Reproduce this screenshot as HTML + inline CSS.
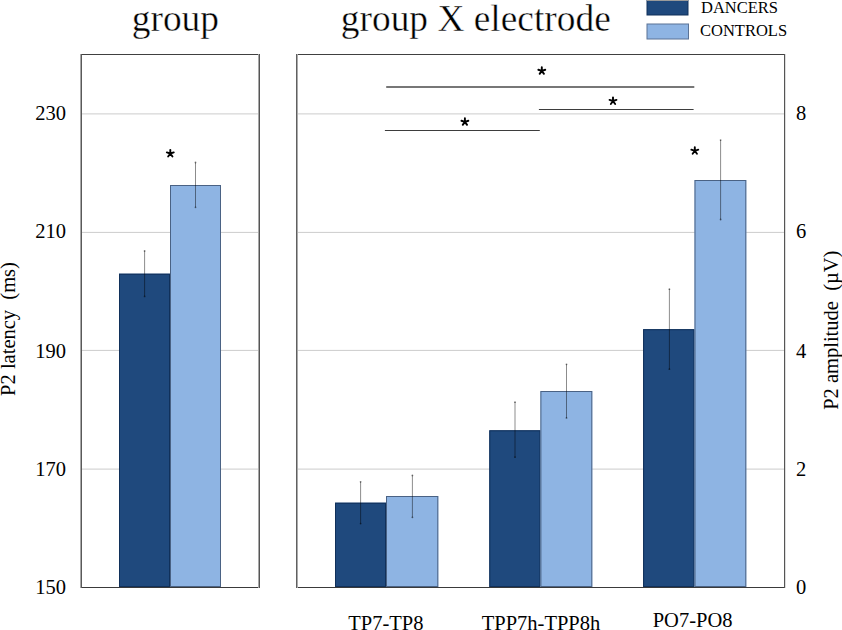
<!DOCTYPE html>
<html>
<head>
<meta charset="utf-8">
<style>
html,body{margin:0;padding:0;background:#fff;}
body{width:842px;height:630px;overflow:hidden;position:relative;}
svg{position:absolute;left:0;top:0;display:block;}
.t{font-family:"Liberation Serif",serif;fill:#000;}
</style>
</head>
<body>
<svg width="842" height="630" viewBox="0 0 842 630">
<text class="t" x="175.4" y="30.5" font-size="37.4" text-anchor="middle" stroke="#fff" stroke-width="0.4">group</text>
<text class="t" x="475.8" y="30.5" font-size="37.4" text-anchor="middle" stroke="#fff" stroke-width="0.4">group X electrode</text>
<rect x="647" y="-1" width="41" height="16" fill="#1F497D" stroke="#10305A" stroke-width="1"/>
<rect x="647" y="0" width="41" height="1" fill="#9a9a9a"/>
<rect x="647" y="24" width="41.5" height="15" fill="#8EB4E3" stroke="#5B7396" stroke-width="1"/>
<text class="t" x="701" y="13.1" font-size="16.5">DANCERS</text>
<text class="t" x="700" y="36.2" font-size="16.5">CONTROLS</text>
<line x1="81" y1="113.9" x2="259" y2="113.9" stroke="#CCCCCC" stroke-width="1"/>
<line x1="297" y1="113.9" x2="784.5" y2="113.9" stroke="#CCCCCC" stroke-width="1"/>
<line x1="81" y1="232.4" x2="259" y2="232.4" stroke="#CCCCCC" stroke-width="1"/>
<line x1="297" y1="232.4" x2="784.5" y2="232.4" stroke="#CCCCCC" stroke-width="1"/>
<line x1="81" y1="350.4" x2="259" y2="350.4" stroke="#CCCCCC" stroke-width="1"/>
<line x1="297" y1="350.4" x2="784.5" y2="350.4" stroke="#CCCCCC" stroke-width="1"/>
<line x1="81" y1="469.1" x2="259" y2="469.1" stroke="#CCCCCC" stroke-width="1"/>
<line x1="297" y1="469.1" x2="784.5" y2="469.1" stroke="#CCCCCC" stroke-width="1"/>
<rect x="119.00" y="273.70" width="51.00" height="313.30" fill="#1F497D"/>
<rect x="119.50" y="274.20" width="50.00" height="312.30" fill="none" stroke="#10305A" stroke-width="1"/>
<rect x="170.00" y="185.00" width="51.00" height="402.00" fill="#8EB4E3"/>
<rect x="170.50" y="185.50" width="50.00" height="401.00" fill="none" stroke="#4A6284" stroke-width="1"/>
<rect x="335.00" y="502.70" width="51.00" height="84.30" fill="#1F497D"/>
<rect x="335.50" y="503.20" width="50.00" height="83.30" fill="none" stroke="#10305A" stroke-width="1"/>
<rect x="386.00" y="496.00" width="52.30" height="91.00" fill="#8EB4E3"/>
<rect x="386.50" y="496.50" width="51.30" height="90.00" fill="none" stroke="#4A6284" stroke-width="1"/>
<rect x="489.30" y="430.30" width="51.20" height="156.70" fill="#1F497D"/>
<rect x="489.80" y="430.80" width="50.20" height="155.70" fill="none" stroke="#10305A" stroke-width="1"/>
<rect x="540.40" y="391.00" width="51.90" height="196.00" fill="#8EB4E3"/>
<rect x="540.90" y="391.50" width="50.90" height="195.00" fill="none" stroke="#4A6284" stroke-width="1"/>
<rect x="643.10" y="329.20" width="51.40" height="257.80" fill="#1F497D"/>
<rect x="643.60" y="329.70" width="50.40" height="256.80" fill="none" stroke="#10305A" stroke-width="1"/>
<rect x="694.50" y="180.00" width="51.80" height="407.00" fill="#8EB4E3"/>
<rect x="695.00" y="180.50" width="50.80" height="406.00" fill="none" stroke="#4A6284" stroke-width="1"/>
<line x1="144.6" y1="250.9" x2="144.6" y2="296.4" stroke="#000" stroke-opacity="0.45" stroke-width="1"/>
<circle cx="144.6" cy="250.9" r="0.9" fill="#000" fill-opacity="0.5"/>
<circle cx="144.6" cy="296.4" r="0.9" fill="#000" fill-opacity="0.5"/>
<line x1="195.5" y1="162.5" x2="195.5" y2="207.3" stroke="#000" stroke-opacity="0.45" stroke-width="1"/>
<circle cx="195.5" cy="162.5" r="0.9" fill="#000" fill-opacity="0.5"/>
<circle cx="195.5" cy="207.3" r="0.9" fill="#000" fill-opacity="0.5"/>
<line x1="360.6" y1="481.8" x2="360.6" y2="523.6" stroke="#000" stroke-opacity="0.45" stroke-width="1"/>
<circle cx="360.6" cy="481.8" r="0.9" fill="#000" fill-opacity="0.5"/>
<circle cx="360.6" cy="523.6" r="0.9" fill="#000" fill-opacity="0.5"/>
<line x1="412.4" y1="475.4" x2="412.4" y2="517.3" stroke="#000" stroke-opacity="0.45" stroke-width="1"/>
<circle cx="412.4" cy="475.4" r="0.9" fill="#000" fill-opacity="0.5"/>
<circle cx="412.4" cy="517.3" r="0.9" fill="#000" fill-opacity="0.5"/>
<line x1="515.0" y1="402.2" x2="515.0" y2="457.2" stroke="#000" stroke-opacity="0.45" stroke-width="1"/>
<circle cx="515.0" cy="402.2" r="0.9" fill="#000" fill-opacity="0.5"/>
<circle cx="515.0" cy="457.2" r="0.9" fill="#000" fill-opacity="0.5"/>
<line x1="566.5" y1="364.3" x2="566.5" y2="417.9" stroke="#000" stroke-opacity="0.45" stroke-width="1"/>
<circle cx="566.5" cy="364.3" r="0.9" fill="#000" fill-opacity="0.5"/>
<circle cx="566.5" cy="417.9" r="0.9" fill="#000" fill-opacity="0.5"/>
<line x1="669.4" y1="289.2" x2="669.4" y2="369.2" stroke="#000" stroke-opacity="0.45" stroke-width="1"/>
<circle cx="669.4" cy="289.2" r="0.9" fill="#000" fill-opacity="0.5"/>
<circle cx="669.4" cy="369.2" r="0.9" fill="#000" fill-opacity="0.5"/>
<line x1="720.6" y1="140.1" x2="720.6" y2="219.5" stroke="#000" stroke-opacity="0.45" stroke-width="1"/>
<circle cx="720.6" cy="140.1" r="0.9" fill="#000" fill-opacity="0.5"/>
<circle cx="720.6" cy="219.5" r="0.9" fill="#000" fill-opacity="0.5"/>
<rect x="80" y="54" width="180" height="1" fill="#404040"/>
<rect x="80" y="587" width="180" height="1" fill="#3a3a3a"/>
<rect x="80" y="54" width="1" height="534" fill="#a8a8a8"/>
<rect x="81" y="54" width="1" height="534" fill="#5a5a5a"/>
<rect x="258" y="54" width="1" height="534" fill="#a8a8a8"/>
<rect x="259" y="54" width="1" height="534" fill="#555555"/>
<rect x="296" y="54" width="490" height="1" fill="#404040"/>
<rect x="296" y="587" width="490" height="1" fill="#3a3a3a"/>
<rect x="296" y="54" width="1" height="534" fill="#606060"/>
<rect x="297" y="54" width="1" height="534" fill="#aaaaaa"/>
<rect x="784" y="54" width="1" height="534" fill="#555555"/>
<rect x="785" y="54" width="1" height="534" fill="#dddddd"/>

<line x1="386.2" y1="87" x2="694.3" y2="87" stroke="#777" stroke-width="2"/>
<line x1="538.9" y1="109.5" x2="693.6" y2="109.5" stroke="#3d3d3d" stroke-width="1"/>
<line x1="384.9" y1="130.5" x2="539.8" y2="130.5" stroke="#3d3d3d" stroke-width="1"/>
<path d="M170.30 153.50L170.30 149.85 M170.30 153.50L173.77 152.37 M170.30 153.50L166.83 152.37 M170.30 153.50L172.45 156.45 M170.30 153.50L168.15 156.45" stroke="#000" stroke-width="1.9" stroke-linecap="round" fill="none"/>
<path d="M694.80 150.80L694.80 147.15 M694.80 150.80L698.27 149.67 M694.80 150.80L691.33 149.67 M694.80 150.80L696.95 153.75 M694.80 150.80L692.65 153.75" stroke="#000" stroke-width="1.9" stroke-linecap="round" fill="none"/>
<path d="M541.80 70.90L541.80 67.25 M541.80 70.90L545.27 69.77 M541.80 70.90L538.33 69.77 M541.80 70.90L543.95 73.85 M541.80 70.90L539.65 73.85" stroke="#000" stroke-width="1.9" stroke-linecap="round" fill="none"/>
<path d="M613.00 101.00L613.00 97.35 M613.00 101.00L616.47 99.87 M613.00 101.00L609.53 99.87 M613.00 101.00L615.15 103.95 M613.00 101.00L610.85 103.95" stroke="#000" stroke-width="1.9" stroke-linecap="round" fill="none"/>
<path d="M464.90 121.90L464.90 118.25 M464.90 121.90L468.37 120.77 M464.90 121.90L461.43 120.77 M464.90 121.90L467.05 124.85 M464.90 121.90L462.75 124.85" stroke="#000" stroke-width="1.9" stroke-linecap="round" fill="none"/>

<g class="t" font-size="20.5" text-anchor="end">
<text x="66" y="120.3">230</text>
<text x="66" y="238.2">210</text>
<text x="66" y="357.7">190</text>
<text x="66" y="475.6">170</text>
<text x="66" y="594">150</text>
</g>
<g class="t" font-size="20.5">
<text x="796" y="120.3">8</text>
<text x="796" y="238.1">6</text>
<text x="796" y="357.6">4</text>
<text x="796" y="475.6">2</text>
<text x="796" y="594">0</text>
</g>
<text class="t" font-size="20.5" text-anchor="middle" transform="translate(14.7,329) rotate(-90)" xml:space="preserve">P2 latency  (ms)</text>
<text class="t" font-size="20.5" text-anchor="middle" transform="translate(838,330.2) rotate(-90)" xml:space="preserve">P2 amplitude  (µV)</text>
<g class="t" font-size="20.5" text-anchor="middle">
<text x="385.9" y="630">TP7-TP8</text>
<text x="541" y="629.9">TPP7h-TPP8h</text>
<text x="692.6" y="626.6">PO7-PO8</text>
</g>
</svg>
</body>
</html>
